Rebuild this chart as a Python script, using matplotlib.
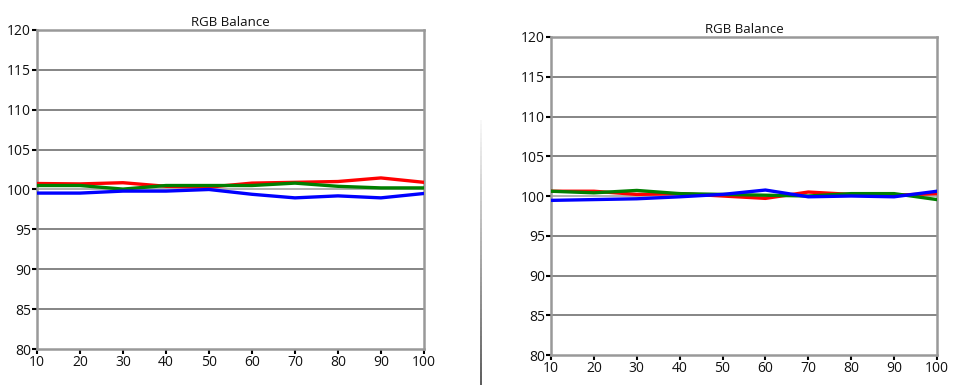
import matplotlib
matplotlib.use("Agg")
import matplotlib.pyplot as plt
import numpy as np
from matplotlib.collections import LineCollection

# ---- data -----------------------------------------------------------------
levels = [10, 20, 30, 40, 50, 60, 70, 80, 90, 100]

left_red = [100.75, 100.7, 100.85, 100.4, 100.3, 100.8, 100.9, 101.0, 101.45, 100.9]
left_green = [100.5, 100.5, 100.05, 100.5, 100.5, 100.5, 100.8, 100.4, 100.2, 100.2]
left_blue = [99.55, 99.55, 99.8, 99.8, 100.0, 99.4, 98.95, 99.2, 98.95, 99.5]

right_red = [100.6, 100.6, 100.2, 100.3, 100.0, 99.7, 100.5, 100.2, 100.1, 100.3]
right_green = [100.6, 100.4, 100.7, 100.3, 100.2, 100.1, 100.0, 100.3, 100.3, 99.55]
right_blue = [99.45, 99.55, 99.65, 99.9, 100.2, 100.75, 99.9, 100.0, 99.9, 100.6]

yticks = [80, 85, 90, 95, 100, 105, 110, 115, 120]
title = "RGB Balance"

plt.rcParams["font.family"] = ["Open Sans", "DejaVu Sans"]

fig = plt.figure(figsize=(9.72, 3.85), dpi=100)
ax_l = fig.add_axes([0.0381, 0.0935, 0.398, 0.8286])
ax_r = fig.add_axes([0.5669, 0.0779, 0.397, 0.826])


def panel(ax, r, g, b):
    for yv in yticks[1:-1]:
        ax.axhline(yv, color="#b0b0b0" if yv == 100 else "#858585",
                   lw=1.4, zorder=1)
    ax.plot(levels, r, color="#ff0000", lw=2.4, zorder=3)
    ax.plot(levels, g, color="#008000", lw=2.4, zorder=3)
    ax.plot(levels, b, color="#0000ff", lw=2.4, zorder=3)
    ax.set_xlim(10, 100)
    ax.set_ylim(80, 120)
    ax.set_xticks(levels)
    ax.set_yticks(yticks)
    for s in ax.spines.values():
        s.set_color("#999999")
        s.set_linewidth(1.8)
    ax.tick_params(axis="both", direction="out", length=3.5, width=1.5,
                   color="black", labelsize=10, pad=1, labelcolor="#111111")
    ax.set_title(title, fontsize=9.5, pad=3, color="#111111")


panel(ax_l, left_red, left_green, left_blue)
panel(ax_r, right_red, right_green, right_blue)

# thin divider between the screenshots, fading in from the top
ys = np.linspace(1 - 120 / 385, 0.0, 60)
xd = 481 / 972
segs = [[(xd, ys[i]), (xd, ys[i + 1])] for i in range(len(ys) - 1)]
shade = np.linspace(0.97, 0.25, len(segs))
lc = LineCollection(segs, colors=[(c, c, c) for c in shade], lw=1.2,
                    transform=fig.transFigure)
fig.add_artist(lc)

fig.savefig("out.png", dpi=100)
